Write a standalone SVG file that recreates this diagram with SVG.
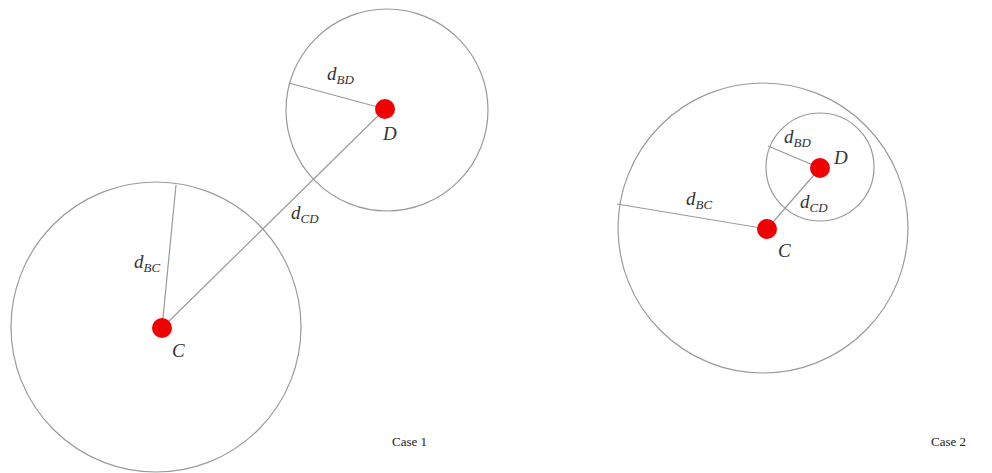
<svg xmlns="http://www.w3.org/2000/svg" width="992" height="473" viewBox="0 0 992 473">
<style>
.c{fill:none;stroke:#9a9a9a;stroke-width:1.2}
.l{stroke:#9a9a9a;stroke-width:1.2}
.dot{fill:#f00000}
.t{font-family:"Liberation Serif",serif;font-style:italic;font-size:19px;fill:#333}
.s{font-size:13px}
.cap{font-family:"Liberation Serif",serif;font-size:13px;fill:#222}
</style>
<rect width="992" height="473" fill="#fff"/>
<g id="case1">
<g id="circleC1"><circle class="c" cx="156" cy="327" r="145"/></g>
<g id="circleD1"><circle class="c" cx="387" cy="110" r="101"/></g>
<g id="connectors1">
<line class="l" x1="162" y1="328" x2="176" y2="185"/>
<line class="l" x1="385" y1="109" x2="289" y2="83"/>
<line class="l" x1="162" y1="328" x2="385" y2="109"/>
</g>
<g id="nodeC1"><circle class="dot" cx="162" cy="328" r="10"/><text class="t" x="172" y="357">C</text></g>
<g id="nodeD1"><circle class="dot" cx="385" cy="109" r="10"/><text class="t" x="383" y="140">D</text></g>
<g id="labels1">
<text class="t" x="327" y="80">d<tspan class="s" dy="4">BD</tspan></text>
<text class="t" x="134" y="268">d<tspan class="s" dy="4">BC</tspan></text>
<text class="t" x="291" y="219">d<tspan class="s" dy="4">CD</tspan></text>
<text class="cap" x="392" y="446">Case 1</text>
</g>
</g>
<g id="case2">
<g id="circleC2"><circle class="c" cx="763" cy="228" r="145"/></g>
<g id="circleD2"><circle class="c" cx="820" cy="167" r="54"/></g>
<g id="connectors2">
<line class="l" x1="767" y1="229" x2="617" y2="204"/>
<line class="l" x1="820" y1="168" x2="768" y2="146"/>
<line class="l" x1="767" y1="229" x2="820" y2="168"/>
</g>
<g id="nodeC2"><circle class="dot" cx="767" cy="229" r="10"/><text class="t" x="778" y="257">C</text></g>
<g id="nodeD2"><circle class="dot" cx="820" cy="168" r="10"/><text class="t" x="834" y="164">D</text></g>
<g id="labels2">
<text class="t" x="784" y="143">d<tspan class="s" dy="4">BD</tspan></text>
<text class="t" x="686" y="205">d<tspan class="s" dy="4">BC</tspan></text>
<text class="t" x="800" y="208">d<tspan class="s" dy="4">CD</tspan></text>
<text class="cap" x="931" y="446">Case 2</text>
</g>
</g>
</svg>
